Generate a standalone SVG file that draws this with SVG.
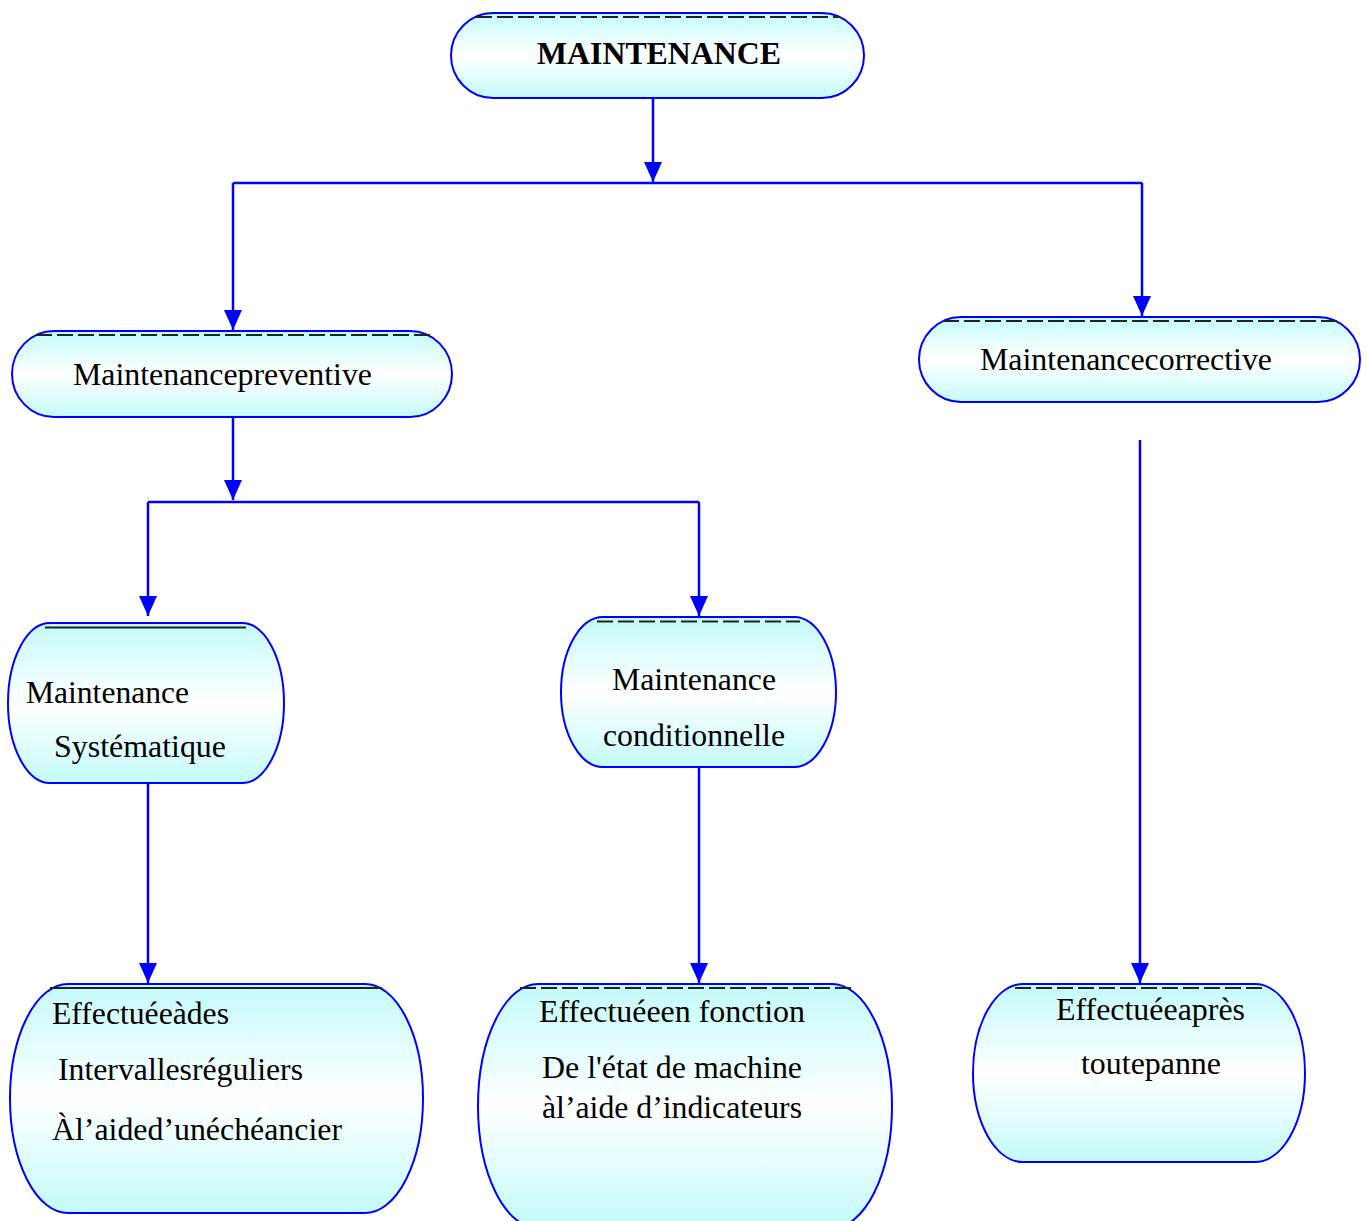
<svg xmlns="http://www.w3.org/2000/svg" width="1367" height="1221" viewBox="0 0 1367 1221">
<style>
.node{stroke:#0000ff;stroke-width:2;fill:url(#g)}
.dash{stroke:#222;stroke-width:1.8;fill:none;stroke-dasharray:16 5}
.t{font-family:"Liberation Serif","Times New Roman",serif;font-size:31px;fill:#000}
.b{font-weight:bold;font-size:32px}
.c{stroke:#0000ff;stroke-width:2.5;fill:none}
.a{stroke:#0000ff;stroke-width:2.5;fill:none;marker-end:url(#arr)}
</style>
<defs>
<linearGradient id="g" x1="0" y1="0" x2="0" y2="1">
<stop offset="0" stop-color="#c4fafa"/>
<stop offset="0.5" stop-color="#ffffff"/>
<stop offset="1" stop-color="#c4fafa"/>
</linearGradient>
<marker id="arr" markerUnits="userSpaceOnUse" markerWidth="20" markerHeight="22" refX="20" refY="10" orient="auto" viewBox="0 0 20 20">
<path d="M0,1 L20,10 L0,19 Z" fill="#0000ff"/>
</marker>
</defs>
<rect width="1367" height="1221" fill="#fff"/>
<g id="connectors">
<path class="a" d="M653,98 V182"/>
<path class="c" d="M233,183 H1142"/>
<path class="a" d="M233,183 V330"/>
<path class="a" d="M1142,183 V316"/>
<path class="a" d="M233,417 V500"/>
<path class="c" d="M148,502 H699"/>
<path class="a" d="M148,502 V616"/>
<path class="a" d="M699,502 V616"/>
<path class="a" d="M148,783 V983"/>
<path class="a" d="M699,767 V983"/>
<path class="a" d="M1140,440 V983"/>
</g>
<g id="n-maintenance">
<rect class="node" x="451" y="13" width="413" height="85" rx="42" ry="42.5"/>
<path class="dash" d="M476,17 H840"/>
<text class="t b" x="537" y="64" textLength="244" lengthAdjust="spacingAndGlyphs">MAINTENANCE</text>
</g>
<g id="n-preventive">
<rect class="node" x="12" y="331" width="440" height="86" rx="42" ry="43"/>
<path class="dash" d="M36,335 H430"/>
<text class="t" x="73" y="385" textLength="299" lengthAdjust="spacingAndGlyphs">Maintenancepreventive</text>
</g>
<g id="n-corrective">
<rect class="node" x="919" y="317" width="441" height="85" rx="42" ry="42.5"/>
<path class="dash" d="M943,321 H1338"/>
<text class="t" x="980" y="370" textLength="292" lengthAdjust="spacingAndGlyphs">Maintenancecorrective</text>
</g>
<g id="n-systematique">
<rect class="node" x="8" y="623" width="276" height="160" rx="42" ry="80"/>
<path class="dash" d="M45,627.5 H246" style="stroke-dasharray:none"/>
<text class="t" x="26" y="703" textLength="163" lengthAdjust="spacingAndGlyphs">Maintenance</text>
<text class="t" x="54" y="757" textLength="172" lengthAdjust="spacingAndGlyphs">Systématique</text>
</g>
<g id="n-conditionnelle">
<rect class="node" x="561" y="617" width="275" height="150" rx="42" ry="75"/>
<path class="dash" d="M597,621.5 H800"/>
<text class="t" x="612" y="690" textLength="164" lengthAdjust="spacingAndGlyphs">Maintenance</text>
<text class="t" x="603" y="746" textLength="182" lengthAdjust="spacingAndGlyphs">conditionnelle</text>
</g>
<g id="n-effectuee-a-des">
<rect class="node" x="10" y="984" width="413" height="229" rx="58" ry="114.5"/>
<path class="dash" d="M50,988 H382" style="stroke-dasharray:none"/>
<text class="t" x="52" y="1024" textLength="177" lengthAdjust="spacingAndGlyphs">Effectuéeàdes</text>
<text class="t" x="58" y="1080" textLength="245" lengthAdjust="spacingAndGlyphs">Intervallesréguliers</text>
<text class="t" x="52" y="1140" textLength="290" lengthAdjust="spacingAndGlyphs">Àl’aided’unéchéancier</text>
</g>
<g id="n-effectuee-en-fonction">
<rect class="node" x="478" y="984" width="414" height="244" rx="60" ry="122"/>
<path class="dash" d="M520,988 H854"/>
<text class="t" x="539" y="1022" textLength="266" lengthAdjust="spacingAndGlyphs">Effectuéeen fonction</text>
<text class="t" x="542" y="1078" textLength="260" lengthAdjust="spacingAndGlyphs">De l'état de machine</text>
<text class="t" x="542" y="1118" textLength="260" lengthAdjust="spacingAndGlyphs">àl’aide d’indicateurs</text>
</g>
<g id="n-effectuee-apres">
<rect class="node" x="973" y="984" width="332" height="178" rx="50" ry="89"/>
<path class="dash" d="M1015,988 H1262"/>
<text class="t" x="1056" y="1020" textLength="189" lengthAdjust="spacingAndGlyphs">Effectuéeaprès</text>
<text class="t" x="1081" y="1074" textLength="140" lengthAdjust="spacingAndGlyphs">toutepanne</text>
</g>
</svg>
